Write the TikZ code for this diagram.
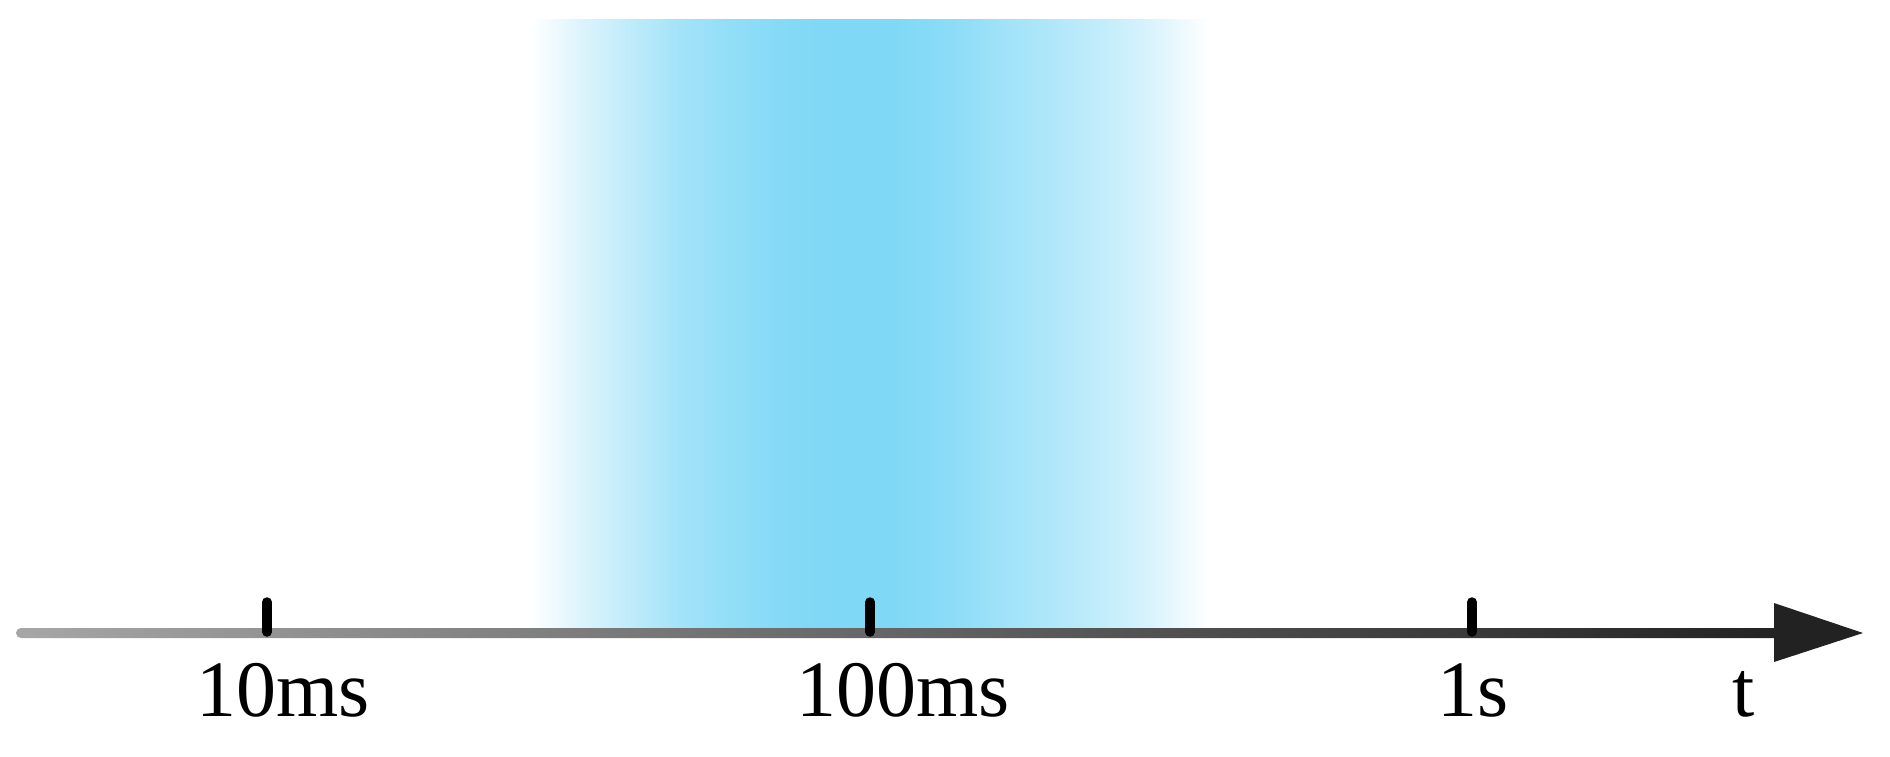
\documentclass[tikz,border=0pt]{standalone}
\usepackage{fontspec}
\setmainfont{Liberation Serif}
\definecolor{bandblue}{RGB}{127,216,246}
\definecolor{axisleft}{RGB}{166,166,166}
\definecolor{axismid}{RGB}{128,128,128}
\definecolor{axisright}{RGB}{34,34,34}
\pgfdeclarehorizontalshading{bandshade}{100bp}{%
  color(0bp)=(white); color(25bp)=(white);
  color(28.68bp)=(bandblue!27!white);
  color(32.35bp)=(bandblue!50!white);
  color(36.03bp)=(bandblue!72!white);
  color(39.71bp)=(bandblue!85!white);
  color(43.00bp)=(bandblue!94!white);
  color(46.50bp)=(bandblue);
  color(51.50bp)=(bandblue);
  color(55.88bp)=(bandblue!90!white);
  color(59.56bp)=(bandblue!75!white);
  color(63.24bp)=(bandblue!62!white);
  color(66.91bp)=(bandblue!48!white);
  color(70.59bp)=(bandblue!30!white);
  color(75bp)=(white); color(100bp)=(white)}
\begin{document}
\begin{tikzpicture}[x=1pt,y=-1pt,
  ticklabel/.style={anchor=base,inner sep=0pt,font=\fontsize{80}{90}\selectfont},
  tickmark/.style={line width=9.5pt,line cap=round,draw=black}]
\useasboundingbox (0,0) rectangle (1890,756);
% blue band
\shade[shading=bandshade] (530,19) rectangle (1210,633);
% axis shaft
\shade[left color=axisleft,middle color=axismid,right color=axisright,rounded corners=5pt] (16,628) rectangle (1790,638);
% arrowhead
\coordinate (abase) at (1774,633);
\coordinate (atip) at (1863,633);
\fill[axisright] (1774,603) -- (atip) -- (1774,662) -- cycle;
% ticks
\coordinate (t1) at (267,633);
\coordinate (t2) at (870,633);
\coordinate (t3) at (1472,633);
\foreach \c in {t1,t2,t3}{
  \draw[tickmark] ([yshift=31pt]\c) -- ([yshift=1pt]\c);
}
% labels
\node[ticklabel] (l1) at (283,716) {10ms};
\node[ticklabel] (l2) at (903,716) {100ms};
\node[ticklabel] (l3) at (1473,716) {1s};
\node[ticklabel] (lt) at (1744,716) {t};
\end{tikzpicture}
\end{document}
